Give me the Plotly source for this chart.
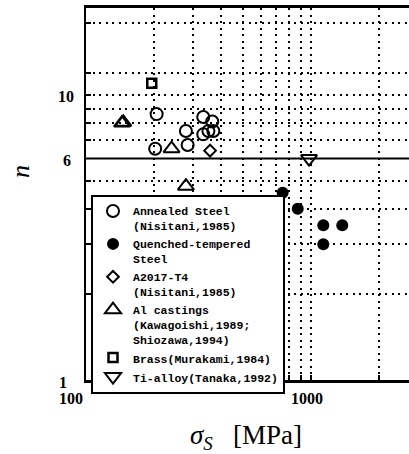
import numpy as np
import plotly.graph_objects as go

# Yield / tensile strength sigma_S [MPa] and exponent n for each material group
annealed_x = [206, 203, 278, 283, 332, 364, 332, 350, 368]
annealed_y = [8.6, 6.5, 7.5, 6.7, 8.4, 8.1, 7.3, 7.5, 7.5]

quenched_x = [748, 873, 1134, 1377, 1134]
quenched_y = [4.55, 4.0, 3.5, 3.5, 3.0]

a2017_x = [356]
a2017_y = [6.4]

al_cast_x = [144.5, 146.5, 240, 278]
al_cast_y = [8.0, 8.05, 6.5, 4.8]

brass_x = [196]
brass_y = [11.05]

ti_x = [980]
ti_y = [6.0]

N_REFERENCE = 6

x_grid = [200, 300, 400, 500, 600, 700, 800, 900, 1000, 2000]
y_grid = [2, 3, 4, 5, 7, 8, 9, 10, 12, 18]
x_tick_labels = ["100", "1000"]
y_tick_labels = ["1", "6", "10"]

W, H = 409, 454
ML, MR, MT, MB = 86, 0, 8, 74
PX_PER_DECADE_X = 225
X_RANGE = [2, 2 + (W - ML - MR) / PX_PER_DECADE_X]
Y_RANGE = [0, np.log10(20.3)]
PLOT_H = H - MB - MT
PLOT_W = W - ML - MR

mono = dict(family="Liberation Mono", size=11.5, color="black", weight="bold")
serif = "Liberation Serif"

fig = go.Figure()

fig.add_trace(go.Scatter(
    x=annealed_x, y=annealed_y, mode="markers",
    name="Annealed Steel<br>(Nisitani,1985)",
    marker=dict(symbol="circle-open", size=12, color="black", line=dict(width=2)),
))
fig.add_trace(go.Scatter(
    x=quenched_x, y=quenched_y, mode="markers",
    name="Quenched-tempered<br>Steel",
    marker=dict(symbol="circle", size=12, color="black", line=dict(width=0)),
))
fig.add_trace(go.Scatter(
    x=a2017_x, y=a2017_y, mode="markers",
    name="A2017-T4<br>(Nisitani,1985)",
    marker=dict(symbol="diamond-open", size=9, color="black", line=dict(width=2)),
))
fig.add_trace(go.Scatter(
    x=al_cast_x, y=al_cast_y, mode="markers",
    name="Al castings<br>(Kawagoishi,1989;<br>Shiozawa,1994)",
    marker=dict(symbol="triangle-up-open", size=14, color="black", line=dict(width=2)),
))
fig.add_trace(go.Scatter(
    x=brass_x, y=brass_y, mode="markers",
    name="Brass(Murakami,1984)",
    marker=dict(symbol="square-open", size=9, color="black", line=dict(width=2.5)),
))
fig.add_trace(go.Scatter(
    x=ti_x, y=ti_y, mode="markers",
    name="Ti-alloy(Tanaka,1992)",
    marker=dict(symbol="triangle-down-open", size=14, color="black", line=dict(width=2)),
))

# solid reference line at n = 6
fig.add_hline(y=N_REFERENCE, line=dict(color="black", width=2), layer="below")

annotations = []
# y tick labels
y_label_shift = {"1": (-17, -2), "6": (-13, -2), "10": (-10, -1)}
for t in y_tick_labels:
    dx, dy = y_label_shift[t]
    annotations.append(dict(
        text=t, xref="paper", x=0, yref="y", y=np.log10(float(t)),
        xanchor="right", yanchor="middle", xshift=dx, yshift=dy, showarrow=False,
        font=dict(family=serif, size=16, color="black", weight="bold"),
    ))
# x tick labels
x_label_shift = {"100": -15, "1000": -4}
for t in x_tick_labels:
    annotations.append(dict(
        text=t, xref="x", x=np.log10(float(t)), yref="paper", y=0,
        xanchor="center", yanchor="middle", xshift=x_label_shift[t], yshift=-18,
        showarrow=False,
        font=dict(family=serif, size=16, color="black", weight="bold"),
    ))
# axis titles
annotations.append(dict(
    text="<i>n</i>", xref="paper", x=0, xshift=-66, yref="paper",
    y=(H - MB - 172) / PLOT_H, textangle=-90, showarrow=False,
    xanchor="center", yanchor="middle",
    font=dict(family=serif, size=26, color="black"),
))
annotations.append(dict(
    text="<i>σ</i><sub><i>S</i></sub>\u00a0\u00a0\u00a0[MPa]",
    xref="paper", x=(245.5 - ML) / PLOT_W, yref="paper",
    y=-(437 - (H - MB)) / PLOT_H, showarrow=False,
    xanchor="center", yanchor="middle",
    font=dict(family=serif, size=27, color="black"),
))

grid_style = dict(showgrid=True, gridcolor="black", gridwidth=1.5, griddash="2px,4.5px")

fig.update_layout(
    width=W, height=H,
    margin=dict(l=ML, r=MR, t=MT, b=MB, pad=0),
    paper_bgcolor="white", plot_bgcolor="white",
    showlegend=True,
    legend=dict(
        x=(91 - ML) / PLOT_W, y=(H - MB - 195) / PLOT_H,
        xanchor="left", yanchor="top",
        bgcolor="white", bordercolor="black", borderwidth=2,
        font=mono, valign="top", tracegroupgap=0, itemwidth=30,
    ),
    xaxis=dict(
        type="log", range=X_RANGE, tickvals=x_grid, showticklabels=False,
        ticks="inside", ticklen=5, tickwidth=1.5, tickcolor="black",
        showline=True, linewidth=3, linecolor="black", mirror=True,
        zeroline=False, **grid_style,
    ),
    yaxis=dict(
        type="log", range=Y_RANGE, tickvals=y_grid, showticklabels=False,
        ticks="inside", ticklen=5, tickwidth=1.5, tickcolor="black",
        showline=True, linewidth=2, linecolor="black", mirror=False,
        zeroline=False, **grid_style,
    ),
    annotations=annotations,
)

fig.write_html("out.html")
